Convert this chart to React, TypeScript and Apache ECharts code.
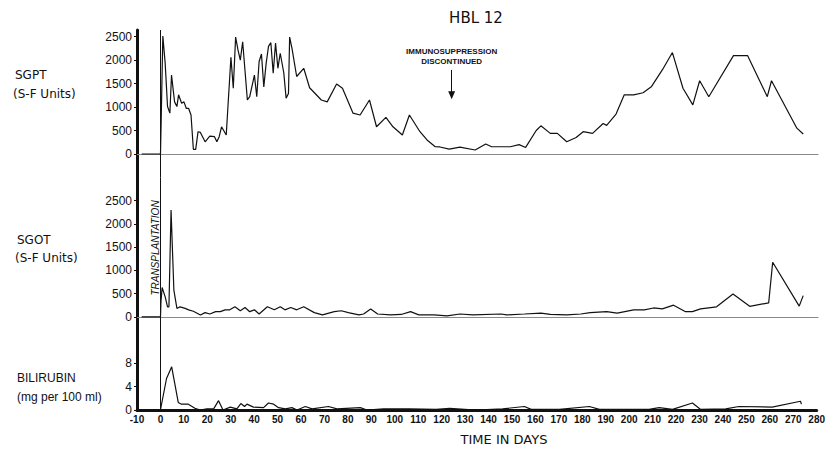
import React, { useEffect, useRef } from "react";
import * as echarts from "echarts";

// ---------- data ----------
const sgptDays = [-8, 0, 0.3, 1, 2, 3, 4, 4.7, 6, 7, 7.7, 9, 10, 11, 12, 13, 14, 15, 16, 17, 19, 21, 23, 24, 25, 26, 28, 30, 31, 32, 33, 34, 35, 37, 38, 40, 41, 42, 43, 44, 45, 46, 47, 48, 49, 50, 51, 52.5, 53.5, 54.5, 55, 56, 58, 61, 63.5, 68.5, 71, 75, 77.5, 82, 85, 89, 92, 96, 99, 103, 106, 110.5, 113.5, 117, 119, 123, 127.5, 134, 138.5, 141, 149, 152.7, 155.5, 160, 162, 166, 169, 173, 177, 180, 184, 188.5, 190, 194, 197.5, 201.5, 205.5, 209, 213.7, 218, 222.5, 226.7, 229.6, 233.5, 244, 250, 258.4, 260.2, 271, 273.7];
const sgptValues = [0, 0, 720, 2510, 1930, 1010, 870, 1680, 1110, 1010, 1260, 1080, 1110, 970, 970, 830, 100, 100, 475, 460, 260, 380, 370, 260, 370, 580, 405, 2060, 1400, 2490, 2215, 2000, 2390, 1150, 1220, 1680, 1220, 1970, 2130, 1430, 1930, 2290, 2370, 1720, 2360, 1825, 2145, 1730, 1190, 1290, 2490, 2250, 1650, 1825, 1410, 1150, 1110, 1490, 1400, 870, 830, 1150, 580, 780, 580, 405, 830, 475, 300, 155, 150, 105, 145, 85, 213, 155, 155, 200, 140, 500, 600, 440, 440, 260, 350, 475, 440, 650, 610, 850, 1260, 1260, 1305, 1430, 1790, 2160, 1400, 1045, 1560, 1220, 2095, 2095, 1220, 1560, 550, 425];

const sgotDays = [-8, 0, 0.2, 0.7, 2, 3, 3.6, 4.5, 5.7, 7, 8.3, 10.5, 12, 14, 17, 19, 21, 23.5, 25.5, 27.5, 29.5, 31.7, 34, 36, 38, 40, 42, 45.5, 48.5, 51, 53, 55.5, 58, 61, 65.5, 69, 74, 77, 80, 84.5, 86.5, 89.5, 92.5, 98, 102.5, 106.5, 110, 116.5, 122, 127.5, 133, 145, 147.5, 155, 162, 166, 173, 179, 183, 190, 194.5, 201.5, 206, 210, 213.7, 218.5, 223.6, 226.5, 230, 236.8, 243.8, 250.9, 259, 260.7, 272, 273.7];
const sgotValues = [0, 0, 320, 630, 430, 215, 215, 2300, 575, 180, 215, 180, 150, 120, 40, 90, 60, 110, 110, 150, 150, 215, 130, 200, 110, 150, 60, 215, 150, 215, 150, 200, 150, 215, 90, 40, 110, 130, 90, 40, 60, 170, 60, 40, 50, 110, 40, 40, 20, 60, 40, 60, 40, 60, 80, 50, 40, 60, 90, 110, 80, 150, 150, 190, 170, 250, 110, 110, 170, 215, 490, 225, 300, 1175, 230, 455];

const biliDays = [-8, 0, 2.6, 4.8, 7.6, 9, 11.9, 14.7, 17, 19.8, 22.7, 24.8, 26.7, 29.8, 32.6, 34.3, 35.9, 36.9, 39.7, 44, 46.1, 48.3, 50.4, 53.3, 56.1, 58.3, 61.8, 64.7, 71.7, 75.3, 85.3, 88.1, 95.2, 106, 117.6, 123.4, 134.7, 146, 155.3, 158.2, 170.2, 183, 187.3, 208.5, 212.8, 218.5, 227, 230.5, 241.2, 246.8, 261, 273.1, 273.5];
const biliValues = [0, 0, 5.4, 7.4, 1.3, 1.0, 1.0, 0.3, 0, 0.2, 0.2, 1.6, 0, 0.5, 0.2, 1.1, 0.6, 1.0, 0.5, 0.4, 1.2, 1.0, 0.4, 0.2, 0.4, 0, 0.6, 0.2, 0.6, 0.2, 0.4, 0, 0.2, 0.2, 0.1, 0.3, 0, 0.2, 0.6, 0.1, 0.1, 0.6, 0.1, 0.1, 0.4, 0.1, 1.2, 0.1, 0.2, 0.6, 0.5, 1.5, 1.0];

const enzymeTicks = [0, 500, 1000, 1500, 2000, 2500];
const biliTicks = [0, 4, 8];
const dayMin = -10;
const dayMax = 280;
const transplantDay = 0;
const immunoDay = 124;
const immunoArrowFrom = 1790;
const immunoArrowTo = 1250;

const zip = (xs: number[], ys: number[]) => xs.map((x, i) => [x, ys[i]]);

const FONT = "'Liberation Sans', Arial, sans-serif";
const INK = "#111";

export default function App() {
  const ref = useRef<HTMLDivElement>(null);
  useEffect(() => {
    if (!ref.current) return;
    const chart = echarts.init(ref.current, undefined, { renderer: "svg" });

    const yLabel = {
      fontSize: 12,
      color: INK,
      fontFamily: FONT,
      margin: 5,
      formatter: (v: number) => String(v),
    };
    const hiddenX = (gi: number) => ({
      type: "value",
      gridIndex: gi,
      min: dayMin,
      max: dayMax,
      interval: 10,
      axisLine: { show: true, onZero: true, lineStyle: { color: "#8a8a8a", width: 1 } },
      axisTick: { show: false },
      axisLabel: { show: false },
      splitLine: { show: false },
    });
    const enzymeY = (gi: number, min: number, max: number) => ({
      type: "value",
      gridIndex: gi,
      min,
      max,
      axisLine: { show: true, onZero: false, lineStyle: { color: INK, width: 3 } },
      axisTick: { show: true, length: 3, customValues: enzymeTicks, lineStyle: { color: INK } },
      axisLabel: { ...yLabel, customValues: enzymeTicks },
      splitLine: { show: false },
    });
    const transplantLine = {
      silent: true,
      symbol: ["none", "none"],
      label: { show: false },
      lineStyle: { color: INK, width: 1, type: "solid" },
      data: [{ xAxis: transplantDay }],
    };
    const lineStyle = { color: INK, width: 1.2 };

    chart.setOption({
      animation: false,
      backgroundColor: "#fff",
      grid: [
        { left: 137, right: 10, top: 30, height: 147.5 },
        { left: 137, right: 10, top: 177.5, height: 162.5 },
        { left: 137, right: 10, top: 340, height: 70 },
      ],
      xAxis: [
        hiddenX(0),
        hiddenX(1),
        {
          type: "value",
          gridIndex: 2,
          min: dayMin,
          max: dayMax,
          interval: 10,
          axisLine: { show: true, onZero: false, lineStyle: { color: INK, width: 3 } },
          axisTick: { show: false },
          axisLabel: { fontSize: 10, fontWeight: "bold", color: INK, fontFamily: FONT, margin: 4 },
          splitLine: { show: false },
        },
      ],
      yAxis: [
        enzymeY(0, -500, 2640),
        enzymeY(1, -500, 3000),
        {
          type: "value",
          gridIndex: 2,
          min: 0,
          max: 12,
          axisLine: { show: true, onZero: false, lineStyle: { color: INK, width: 3 } },
          axisTick: { show: true, length: 3, customValues: biliTicks, lineStyle: { color: INK } },
          axisLabel: { ...yLabel, customValues: biliTicks },
          splitLine: { show: false },
        },
      ],
      series: [
        {
          name: "SGPT",
          type: "line",
          xAxisIndex: 0,
          yAxisIndex: 0,
          data: zip(sgptDays, sgptValues),
          symbol: "none",
          lineStyle,
          markLine: {
            silent: true,
            symbol: ["none", "none"],
            data: [
              { xAxis: transplantDay, label: { show: false }, lineStyle: { color: INK, width: 1, type: "solid" } },
              [
                {
                  coord: [immunoDay, immunoArrowFrom],
                  symbol: "none",
                  label: {
                    show: true,
                    position: "start",
                    formatter: "IMMUNOSUPPRESSION\nDISCONTINUED",
                    fontSize: 8,
                    fontWeight: "bold",
                    fontFamily: FONT,
                    color: INK,
                    lineHeight: 10,
                    distance: 3,
                  },
                  lineStyle: { color: INK, width: 1, type: "solid" },
                },
                { coord: [immunoDay, immunoArrowTo], symbol: "triangle", symbolSize: [7, 8], symbolRotate: 180 },
              ],
            ],
          },
        },
        {
          name: "SGOT",
          type: "line",
          xAxisIndex: 1,
          yAxisIndex: 1,
          data: zip(sgotDays, sgotValues),
          symbol: "none",
          lineStyle,
          markLine: transplantLine,
        },
        {
          name: "Bilirubin",
          type: "line",
          xAxisIndex: 2,
          yAxisIndex: 2,
          data: zip(biliDays, biliValues),
          symbol: "none",
          lineStyle,
          markLine: transplantLine,
        },
      ],
      graphic: [
        { type: "text", x: 476, y: 18, style: { text: "HBL 12", font: "15px 'DejaVu Sans', sans-serif", fill: INK, textAlign: "center", textVerticalAlign: "middle", align: "center", verticalAlign: "middle" } },
        { type: "text", x: 15, y: 75, style: { text: "SGPT", font: "12px 'DejaVu Sans', sans-serif", fill: INK, textVerticalAlign: "middle", verticalAlign: "middle" } },
        { type: "text", x: 13, y: 94, style: { text: "(S-F Units)", font: "12px 'DejaVu Sans', sans-serif", fill: INK, textVerticalAlign: "middle", verticalAlign: "middle" } },
        { type: "text", x: 17, y: 240, style: { text: "SGOT", font: "12px 'DejaVu Sans', sans-serif", fill: INK, textVerticalAlign: "middle", verticalAlign: "middle" } },
        { type: "text", x: 15, y: 258, style: { text: "(S-F Units)", font: "12px 'DejaVu Sans', sans-serif", fill: INK, textVerticalAlign: "middle", verticalAlign: "middle" } },
        { type: "text", x: 17, y: 378, style: { text: "BILIRUBIN", font: "12px " + FONT, fill: INK, textVerticalAlign: "middle", verticalAlign: "middle" } },
        { type: "text", x: 17, y: 397, style: { text: "(mg per 100 ml)", font: "12px " + FONT, fill: INK, textVerticalAlign: "middle", verticalAlign: "middle" } },
        { type: "text", x: 504, y: 439, style: { text: "TIME IN DAYS", font: "13px 'DejaVu Sans', sans-serif", fill: INK, textAlign: "center", textVerticalAlign: "middle", align: "center", verticalAlign: "middle" } },
        { type: "text", x: 155, y: 248, rotation: Math.PI / 2, style: { text: "TRANSPLANTATION", font: "italic 10px " + FONT, fill: INK, textAlign: "center", textVerticalAlign: "middle", align: "center", verticalAlign: "middle" } },
      ],
    });
    return () => chart.dispose();
  }, []);
  return <div ref={ref} style={{ position: "absolute", left: 0, top: 0, width: 828, height: 449 }} />;
}
